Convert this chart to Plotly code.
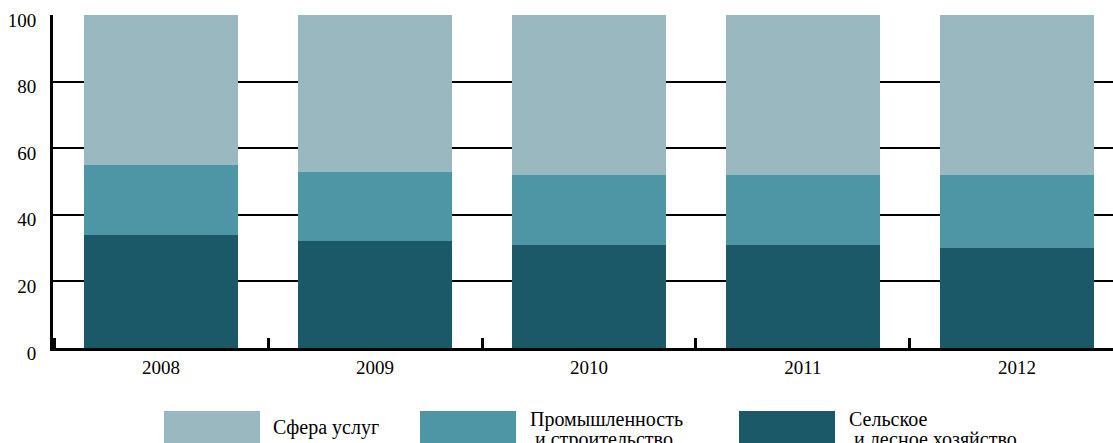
import plotly.graph_objects as go

years = ["2008", "2009", "2010", "2011", "2012"]
agriculture = [34, 32, 31, 31, 30]
industry = [21, 21, 21, 21, 22]
services = [45, 47, 48, 48, 48]

names = ["Сфера услуг", "Промышленность", "Сельское"]
legend_lines = [["Сфера услуг"], ["Промышленность", " и строительство"], ["Сельское", " и лесное хозяйство"]]

c_serv = "#99B8BF"
c_ind = "#4E95A5"
c_agr = "#1C5968"

W, H = 1113, 443
ML, MR, MT, MB = 53, 0, 15, 95
PW = W - ML - MR
PH = H - MT - MB

def px2x(px):
    return (px - ML) / PW

def py2y(py):
    return (H - MB - py) / PH

font_family = "Liberation Serif, Times New Roman, serif"

fig = go.Figure()
fig.add_trace(go.Bar(x=years, y=agriculture, marker=dict(color=c_agr, line=dict(width=0)), name=names[2]))
fig.add_trace(go.Bar(x=years, y=industry, marker=dict(color=c_ind, line=dict(width=0)), name=names[1]))
fig.add_trace(go.Bar(x=years, y=services, marker=dict(color=c_serv, line=dict(width=0)), name=names[0]))

fig.update_layout(
    width=W, height=H,
    margin=dict(l=ML, r=MR, t=MT, b=MB, pad=0),
    barmode="stack", bargap=0.28,
    showlegend=False,
    plot_bgcolor="white", paper_bgcolor="white",
    font=dict(family=font_family, size=18, color="black"),
)
fig.update_xaxes(
    type="category", range=[-0.505, 4.449],
    showline=True, linecolor="black", linewidth=3,
    ticks="inside", tickson="boundaries", ticklen=10, tickwidth=3, tickcolor="black",
    showgrid=False, tickfont=dict(size=19, family=font_family),
)
fig.update_yaxes(
    range=[0, 100], tickvals=[0, 20, 40, 60, 80, 100],
    showline=True, linecolor="black", linewidth=3,
    showgrid=True, gridcolor="black", gridwidth=2,
    zeroline=False, ticks="", ticklabelstandoff=10, ticklabelshift=5,
    tickfont=dict(size=19, family=font_family),
)

# custom legend
boxes = [(164, 260, c_serv), (420, 516, c_ind), (739, 835, c_agr)]
text_x = [271, 528, 847]
for (x0, x1, col), tx, lines in zip(boxes, text_x, legend_lines):
    fig.add_shape(type="rect", xref="paper", yref="paper",
                  x0=px2x(x0), x1=px2x(x1), y0=py2y(411), y1=py2y(452),
                  fillcolor=col, line=dict(width=0))
    if len(lines) == 1:
        fig.add_annotation(xref="paper", yref="paper", x=px2x(tx), y=py2y(427),
                           text=lines[0], showarrow=False, xanchor="left", yanchor="middle",
                           font=dict(size=20, family=font_family, color="black"))
    else:
        for i, ln in enumerate(lines):
            fig.add_annotation(xref="paper", yref="paper", x=px2x(tx), y=py2y(419 + 20 * i),
                               text=ln.replace(" ", "&nbsp;", 1) if ln.startswith(" ") else ln,
                               showarrow=False, xanchor="left", yanchor="middle",
                               font=dict(size=20, family=font_family, color="black"))

fig.write_html("out.html", config={"displayModeBar": False},
               post_script="document.body.style.margin='0';document.body.style.overflow='hidden';")
